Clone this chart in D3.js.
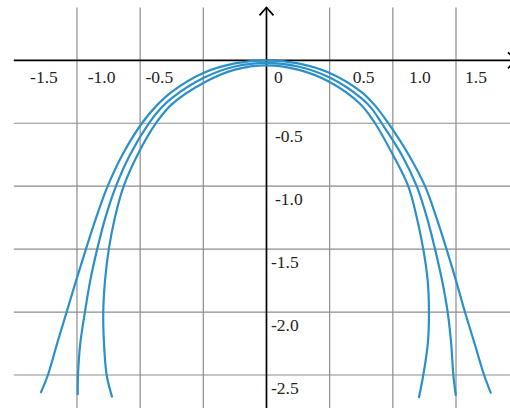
<!DOCTYPE html>
<html>
<head>
<meta charset="utf-8">
<script src="https://cdn.jsdelivr.net/npm/d3@7"></script>
<style>
  html, body { margin: 0; padding: 0; background: #fff; }
  svg { display: block; }
  .lbl { font-family: "Liberation Serif", "DejaVu Serif", serif; font-size: 17.5px; fill: #222; }
</style>
</head>
<body>
<script>
// Three nested downward-opening curves, each listed left to right as [x, y].
const outerCurve = [
  [-1.785, -2.637], [-1.730, -2.5], [-1.657, -2.25], [-1.582, -2.0], [-1.507, -1.75],
  [-1.429, -1.5], [-1.348, -1.25], [-1.257, -1.0], [-1.14, -0.75], [-0.986, -0.5],
  [-0.87, -0.36], [-0.75, -0.25], [-0.5, -0.10], [-0.25, -0.024], [0, 0],
  [0.25, -0.024], [0.5, -0.10], [0.75, -0.25], [0.86, -0.36], [0.964, -0.5],
  [1.125, -0.75], [1.255, -1.0], [1.345, -1.25], [1.425, -1.5], [1.5, -1.75],
  [1.571, -2.0], [1.647, -2.25], [1.722, -2.5], [1.775, -2.64]
];
const middleCurve = [
  [-1.494, -2.653], [-1.492, -2.5], [-1.474, -2.25], [-1.437, -2.0], [-1.395, -1.75],
  [-1.340, -1.5], [-1.275, -1.25], [-1.191, -1.0], [-1.08, -0.75], [-0.930, -0.5],
  [-0.84, -0.385], [-0.75, -0.30], [-0.5, -0.14], [-0.25, -0.049], [0, -0.02],
  [0.25, -0.049], [0.5, -0.137], [0.75, -0.30], [0.83, -0.38], [0.912, -0.5],
  [1.07, -0.75], [1.189, -1.0], [1.27, -1.25], [1.334, -1.5], [1.39, -1.75],
  [1.434, -2.0], [1.462, -2.25], [1.479, -2.5], [1.498, -2.659]
];
const innerCurve = [
  [-1.223, -2.672], [-1.265, -2.5], [-1.286, -2.25], [-1.292, -2.0], [-1.278, -1.75],
  [-1.248, -1.5], [-1.20, -1.25], [-1.13, -1.0], [-1.02, -0.75], [-0.875, -0.5],
  [-0.75, -0.35], [-0.5, -0.18], [-0.25, -0.074], [0, -0.04],
  [0.25, -0.074], [0.5, -0.172], [0.74, -0.345], [0.859, -0.5], [1.0, -0.75],
  [1.122, -1.0], [1.19, -1.25], [1.241, -1.5], [1.276, -1.75], [1.286, -2.0],
  [1.277, -2.25], [1.241, -2.5], [1.207, -2.677]
];

const xTicks = [-1.5, -1.0, -0.5, 0, 0.5, 1.0, 1.5];
const xTickLabels = ["-1.5", "-1.0", "-0.5", "0", "0.5", "1.0", "1.5"];
const yTicks = [-0.5, -1.0, -1.5, -2.0, -2.5];
const yTickLabels = ["-0.5", "-1.0", "-1.5", "-2.0", "-2.5"];

const W = 510, H = 408;
const x = d3.scaleLinear().domain([-2, 1.5]).range([13.8, 456]);
const y = d3.scaleLinear().domain([0, -2.5]).range([60.3, 375]);

const svg = d3.select("body").append("svg").attr("width", W).attr("height", H);

// grid
const grid = svg.append("g").attr("stroke", "#8c8c8c").attr("stroke-width", 1.2);
grid.selectAll("line.v").data(xTicks.filter(d => d !== 0)).join("line")
  .attr("class", "v")
  .attr("x1", d => x(d)).attr("x2", d => x(d))
  .attr("y1", y(0.42)).attr("y2", H);
grid.selectAll("line.h").data(yTicks).join("line")
  .attr("class", "h")
  .attr("x1", x(-2)).attr("x2", W)
  .attr("y1", d => y(d)).attr("y2", d => y(d));

// axes
const axes = svg.append("g").attr("stroke", "#000").attr("stroke-width", 1.7).attr("fill", "none");
axes.append("line").attr("x1", x(-2)).attr("x2", W).attr("y1", y(0)).attr("y2", y(0));
axes.append("line").attr("x1", x(0)).attr("x2", x(0)).attr("y1", y(0.42)).attr("y2", H);
axes.append("path")
  .attr("d", `M${x(0) - 7},${y(0.42) + 8} L${x(0)},${y(0.42)} L${x(0) + 7},${y(0.42) + 8}`);
axes.append("path")
  .attr("d", `M${W - 2},${y(0) - 8} L${W + 6},${y(0)} L${W - 2},${y(0) + 8}`);

// tick labels along the horizontal axis sit between the grid lines
const labelX = d3.scaleLinear()
  .domain([-1.5, -0.5, 0, 0.5, 1.5])
  .range([x(-1.5) - 33, x(-0.5) - 44, x(0) + 12, x(0.5) + 34, x(1.5) + 20]);
svg.append("g").selectAll("text").data(xTicks).join("text")
  .attr("class", "lbl")
  .attr("text-anchor", "middle")
  .attr("x", d => labelX(d))
  .attr("y", y(0) + 23)
  .text((d, i) => xTickLabels[i]);

svg.append("g").selectAll("text").data(yTicks).join("text")
  .attr("class", "lbl")
  .attr("text-anchor", "start")
  .attr("x", d => x(0) + (d > -1.25 ? 8.5 : 4.5))
  .attr("y", d => y(d) + 19)
  .text((d, i) => yTickLabels[i]);

// curves
const line = d3.line().x(d => x(d[0])).y(d => y(d[1])).curve(d3.curveCatmullRom.alpha(0.5));
svg.append("g").selectAll("path").data([outerCurve, middleCurve, innerCurve]).join("path")
  .attr("d", line)
  .attr("fill", "none")
  .attr("stroke", "#2b90c8")
  .attr("stroke-width", 2.2)
  .attr("stroke-linecap", "round");
</script>
</body>
</html>
